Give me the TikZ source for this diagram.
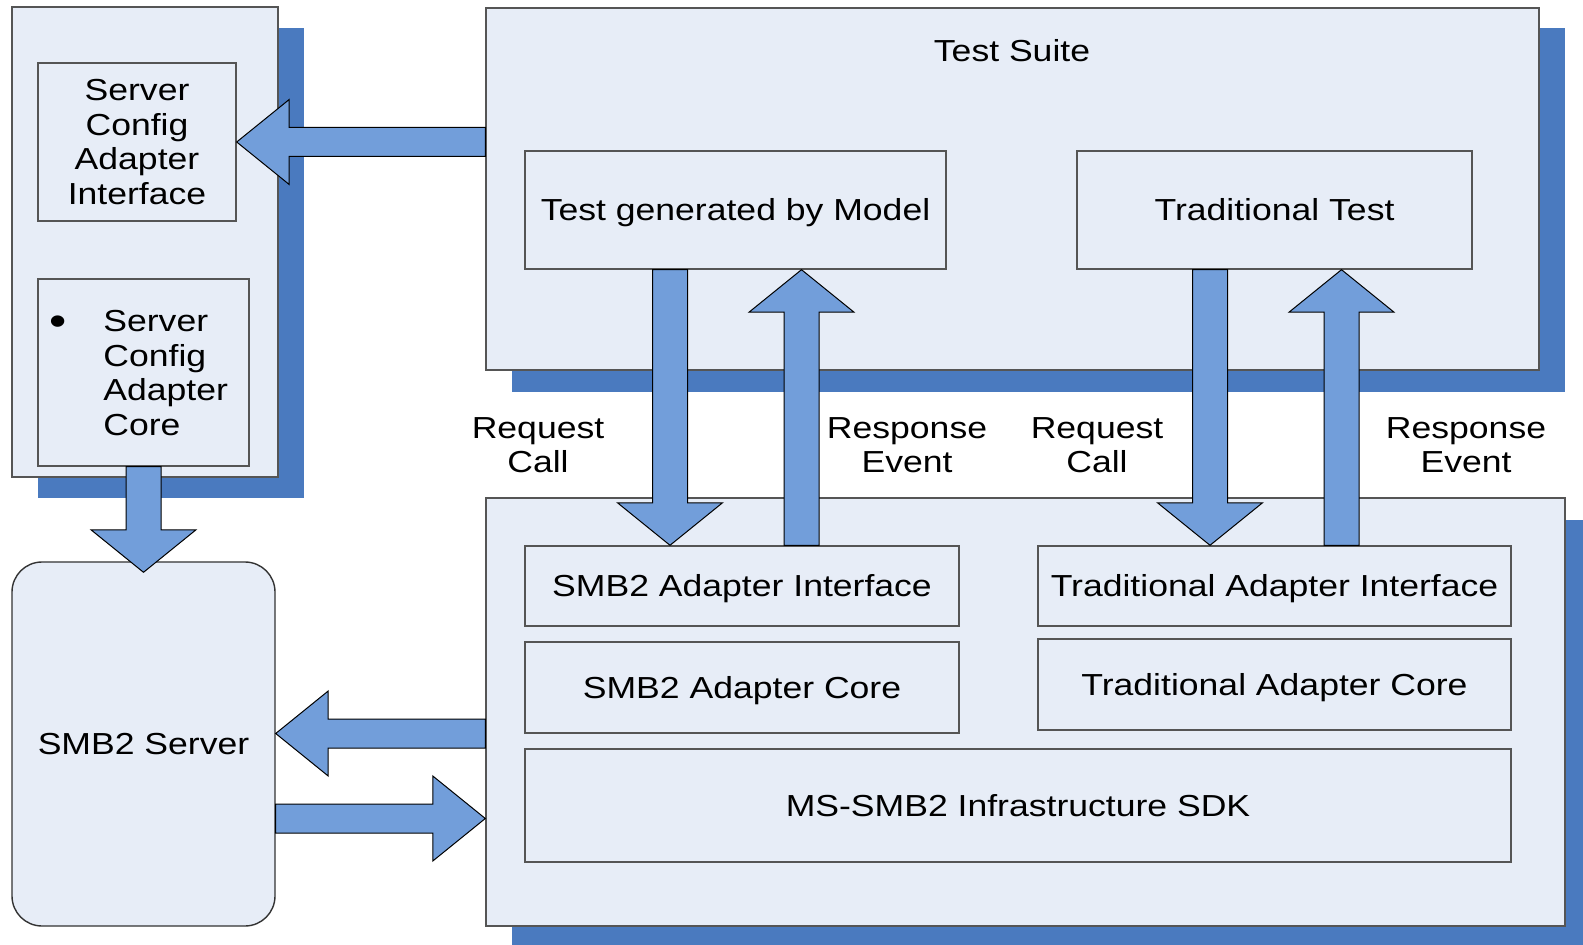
\documentclass[tikz,border=0pt]{standalone}
\usepackage{fontspec}
\setmainfont{Liberation Sans}[FakeStretch=1.17]
\usetikzlibrary{calc,fit}
\definecolor{boxfill}{HTML}{E7EDF7}
\definecolor{shadowblue}{HTML}{4A7ABF}
\definecolor{arrowfill}{HTML}{729EDA}
\definecolor{boxline}{HTML}{555555}
\tikzset{
  txt/.style={font=\fontsize{15.2}{17.25}\selectfont},
  box/.style={draw=boxline, line width=0.7pt, fill=boxfill, inner sep=0pt},
  shadowbox/.style={fill=shadowblue, draw=none},
  barrow/.style={draw=black, line width=0.5pt, fill=arrowfill, line join=miter},
  lbl/.style={align=center, inner sep=0pt, txt},
  oneline/.style={inner sep=0pt, txt, text height=10.8pt, text depth=0pt}
}
% horizontal block arrow from #1 to tip #2
\newcommand\harrow[2]{\draw[barrow] let \p1=(#1), \p2=(#2), \n1={sign(\x2-\x1)} in
  (\x1,\y1-7.25pt) -- (\x2-\n1*26.25pt,\y1-7.25pt) -- (\x2-\n1*26.25pt,\y1-21.25pt) -- (\x2,\y1)
  -- (\x2-\n1*26.25pt,\y1+21.25pt) -- (\x2-\n1*26.25pt,\y1+7.25pt) -- (\x1,\y1+7.25pt) -- cycle;}
% vertical block arrow from #1 to tip #2
\newcommand\varrow[2]{\draw[barrow] let \p1=(#1), \p2=(#2), \n1={sign(\y2-\y1)} in
  (\x1-8.75pt,\y1) -- (\x1-8.75pt,\y2-\n1*21.25pt) -- (\x1-26.25pt,\y2-\n1*21.25pt) -- (\x1,\y2)
  -- (\x1+26.25pt,\y2-\n1*21.25pt) -- (\x1+8.75pt,\y2-\n1*21.25pt) -- (\x1+8.75pt,\y1) -- cycle;}
\begin{document}
\begin{tikzpicture}[x=0.5pt,y=-0.5pt]
\clip (0,0) rectangle (1583,945);
\fill[white] (0,0) rectangle (1583,945);
% shadows
\fill[shadowbox] (38,28) rectangle (304,498);
\fill[shadowbox] (512,28) rectangle (1565,392);
\fill[shadowbox] (512,520) rectangle (1591,947);
% left column
\node[box, fit={(12,7) (278,477)}] (left) {};
\node[box, fit={(38,63) (236,221)}] (scai) {};
\node[lbl] (scaitext) at (scai.center) {Server\\Config\\Adapter\\Interface};
\node[box, fit={(38,279) (249,466)}] (scac) {};
\node[lbl, anchor=west, align=left] (scactext) at (103,373) {Server\\Config\\Adapter\\Core};
\node[lbl, font=\fontsize{21}{21}\selectfont] (bullet) at (58,326) {\textbullet};
\node[box, rounded corners=15pt, draw=black!80, fit={(12,562) (275,926)}] (server) {};
\node[oneline] (servertext) at (server.center) {SMB2 Server};
% test suite
\node[box, fit={(486,8) (1539,370)}] (suite) {};
\node[oneline] (suitetitle) at (1012,51) {Test Suite};
\node[box, fit={(525,151) (946,269)}] (tgm) {};
\node[oneline] (tgmtext) at (tgm.center) {Test generated by Model};
\node[box, fit={(1077,151) (1472,269)}] (tt) {};
\node[oneline] (tttext) at (tt.center) {Traditional Test};
% adapter block
\node[box, fit={(486,498) (1565,926)}] (adapter) {};
\node[box, fit={(525,546) (959,626)}] (sai) {};
\node[oneline] (saitext) at (sai.center) {SMB2 Adapter Interface};
\node[box, fit={(525,642) (959,733)}] (sac) {};
\node[oneline] (sactext) at (sac.center) {SMB2 Adapter Core};
\node[box, fit={(1038,546) (1511,626)}] (tai) {};
\node[oneline] (taitext) at (tai.center) {Traditional Adapter Interface};
\node[box, fit={(1038,639) (1511,730)}] (tac) {};
\node[oneline] (tactext) at (tac.center) {Traditional Adapter Core};
\node[box, fit={(525,749) (1511,862)}] (sdk) {};
\node[oneline] (sdktext) at (sdk.center) {MS-SMB2 Infrastructure SDK};
% labels
\node[lbl] (rq1) at (538,445) {Request\\Call};
\node[lbl] (rs1) at (907,445) {Response\\Event};
\node[lbl] (rq2) at (1097,445) {Request\\Call};
\node[lbl] (rs2) at (1466,445) {Response\\Event};
% helper coordinates
\coordinate (xa) at (670,0);
\coordinate (xb) at (801.5,0);
\coordinate (xc) at (1210,0);
\coordinate (xd) at (1341.5,0);
\coordinate (ya) at (0,733.5);
\coordinate (yb) at (0,818.5);
\coordinate (srvtip) at ($(server.north)+(0,11)$);
% arrows
\harrow{suite.west |- scai.east}{scai.east}
\varrow{scac.south}{srvtip}
\harrow{adapter.west |- ya}{server.east |- ya}
\harrow{server.east |- yb}{adapter.west |- yb}
\varrow{tgm.south -| xa}{sai.north -| xa}
\varrow{sai.north -| xb}{tgm.south -| xb}
\varrow{tt.south -| xc}{tai.north -| xc}
\varrow{tai.north -| xd}{tt.south -| xd}
\end{tikzpicture}
\end{document}
